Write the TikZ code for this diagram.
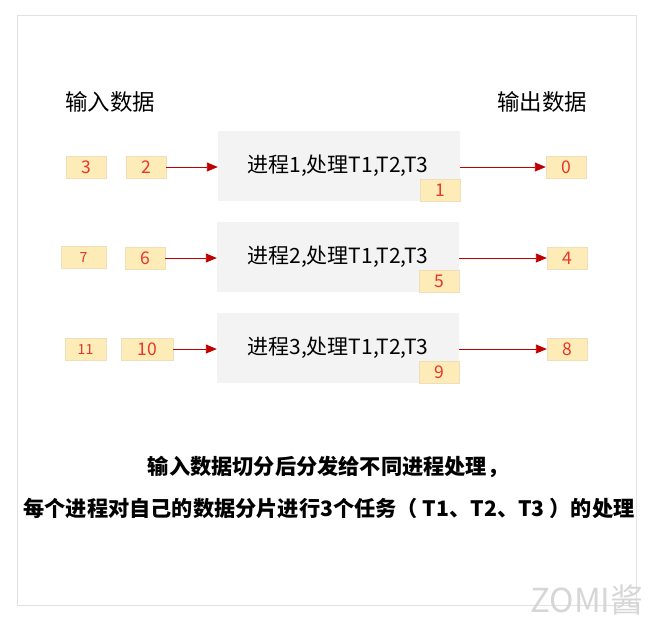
\documentclass[tikz,border=0pt]{standalone}
\usepackage{fontspec}
\setmainfont{Noto Sans CJK SC}
\usetikzlibrary{positioning,arrows.meta}

\definecolor{chipfill}{HTML}{FDEBB8}
\definecolor{chipline}{HTML}{EEDFB8}
\definecolor{numred}{HTML}{E8362B}
\definecolor{arrowred}{HTML}{C00000}
\definecolor{procfill}{HTML}{F3F3F3}
\definecolor{framegray}{HTML}{E2E2E2}
\definecolor{markgray}{HTML}{D6D6D6}

\tikzset{
  chip/.style={fill=chipfill,draw=chipline,minimum width=40pt,minimum height=22pt,
    inner sep=0pt,text=numred,font=\fontsize{17.5}{17.5}\selectfont},
  smallchip/.style={chip,font=\fontsize{14}{14}\selectfont},
  proc/.style={fill=procfill,minimum width=242pt,minimum height=70pt,inner sep=0pt},
  flow/.style={draw=arrowred,line width=0.9pt,-{Triangle[length=11pt,width=9pt]}},
}

\begin{document}
\begin{tikzpicture}[x=1pt,y=-1pt,font=\fontsize{21}{21}\selectfont]
\useasboundingbox (0,0) rectangle (663,625);
\draw[framegray] (17,15) rectangle (636,605);

\node[font=\fontsize{22.5}{22.5}\selectfont] (inlab) at (110,102) {输入数据};
\node[font=\fontsize{22.5}{22.5}\selectfont] (outlab) at (542,102) {输出数据};

% process 1
\node[proc] (p1) at (339,166) {};
\node (t1) at (338,166) {进程1,处理T1,T2,T3};
\node[chip,anchor=south east] (c1) at (p1.south east) {1};
\node[chip] (a3) at (86,167) {3};
\node[chip] (a2) at (146,167) {2};
\node[chip] (b0) at (566,167) {0};
\draw[flow] (a2.east) -- (a2.east -| p1.west);
\draw[flow] (p1.east |- b0) -- (b0.west);

% process 2
\node[proc] (p2) at (338,257) {};
\node (t2) at (338,257) {进程2,处理T1,T2,T3};
\node[chip,anchor=south east] (c5) at (p2.south east) {5};
\node[smallchip,minimum width=45pt] (a7) at (83.5,257) {7};
\node[chip] (a6) at (145,258) {6};
\node[chip] (b4) at (567,258) {4};
\draw[flow] (a6.east) -- (a6.east -| p2.west);
\draw[flow] (p2.east |- b4) -- (b4.west);

% process 3
\node[proc] (p3) at (338,348) {};
\node (t3) at (338,348) {进程3,处理T1,T2,T3};
\node[chip,anchor=south east] (c9) at (p3.south east) {9};
\node[smallchip,minimum width=41pt] (a11) at (85.5,349) {11};
\node[chip,minimum width=52pt] (a10) at (147,349) {10};
\node[chip] (b8) at (567,349) {8};
\draw[flow] (a10.east) -- (a10.east -| p3.west);
\draw[flow] (p3.east |- b8) -- (b8.west);

\node[font=\fontsize{21.2}{21.2}\selectfont\bfseries] (note1) at (328,467) {输入数据切分后分发给不同进程处理，};
\node[font=\fontsize{21.2}{21.2}\selectfont\bfseries] (note2) at (329,508) {每个进程对自己的数据分片进行3个任务（ T1、T2、T3 ）的处理};

\node[text=markgray,font=\fontsize{33}{33}\selectfont] (mark) at (587,600) {ZOMI酱};
\end{tikzpicture}
\end{document}
